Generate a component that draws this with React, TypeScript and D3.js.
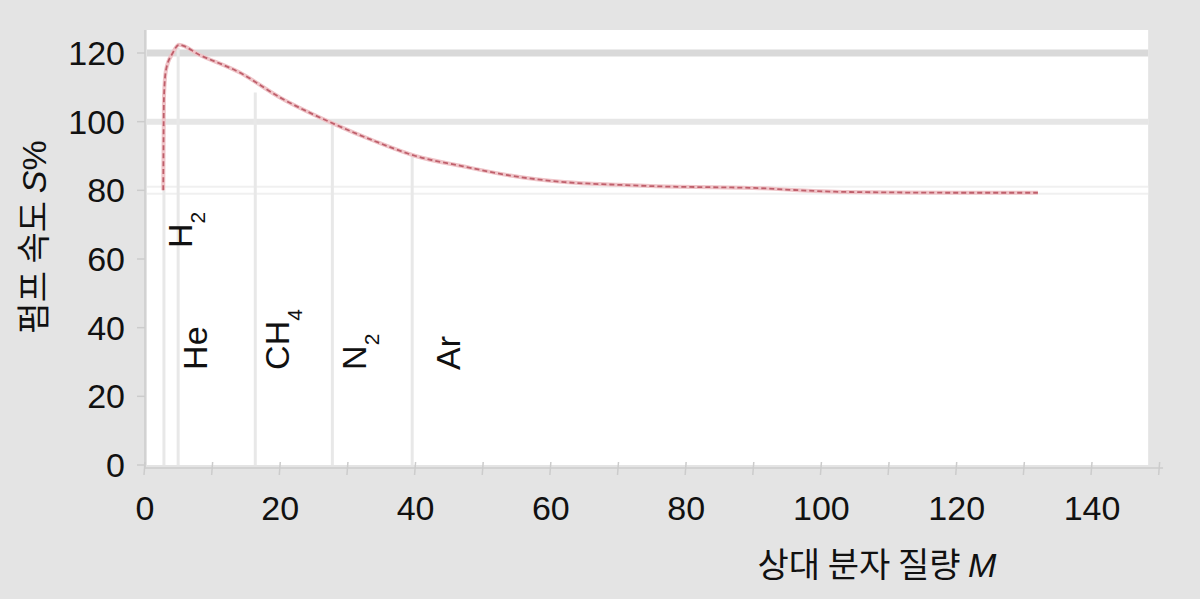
import * as d3 from "d3";
import React from "react";

// pump speed curve
const massM = [2.7, 2.8, 3.1, 4.1, 5.0, 8, 14, 20, 28, 34, 40, 47, 54, 62, 70, 77, 84, 90, 96, 102, 110, 120, 132];
const speedS = [80, 107, 115, 120, 122.4, 119.5, 114.3, 107, 99.3, 94.3, 90, 87, 84.3, 82.4, 81.6, 81.1, 80.9, 80.7, 80.1, 79.6, 79.4, 79.3, 79.3];

// gas markers
const gasBase = ["H", "He", "CH", "N", "Ar"];
const gasSub = ["2", "", "4", "2", ""];
const gasM = [2.8, 4.9, 16.3, 27.7, 39.5];
const gasTopS = [80, 121.5, 108.5, 99, 90];
// where each rotated label starts (baseline point, data units)
const labelM = [6.95, 9.2, 21.3, 32.7, 46.5];
const labelS = [63.2, 27.7, 27.7, 27.7, 27.7];

const xTicks = [0, 20, 40, 60, 80, 100, 120, 140];
const xMinor = [0, 10, 20, 30, 40, 50, 60, 70, 80, 90, 100, 110, 120, 130, 140, 150];
const yTicks = [0, 20, 40, 60, 80, 100, 120];
const gridS = [120, 100, 80];

const W = 1200;
const H = 599;
const FONT = "'Liberation Sans', Arial, 'Noto Sans CJK KR', sans-serif";
const KFONT = "'Noto Sans CJK KR', 'Liberation Sans', sans-serif";

export default function App() {
  const x = d3.scaleLinear().domain([0, 140]).range([145, 1092]);
  const y = d3.scaleLinear().domain([0, 120]).range([465, 53]);

  const pts = massM.map((m, i) => [m, speedS[i]] as [number, number]);
  const line = d3.line<[number, number]>().x(d => x(d[0])).y(d => y(d[1])).curve(d3.curveMonotoneX);
  const path = line(pts) ?? "";

  const plotL = x(0) + 2;
  const plotR = x(148.3);
  const plotT = y(126.7);
  const plotB = y(0);

  // grid styles: 120 strongest, 80 faintest
  const gridStyle = [
    { stroke: "#d9d9d9", w: 7 },
    { stroke: "#e6e6e6", w: 6 },
    { stroke: "#f0f0f0", w: 9 },
  ];

  return (
    <svg width={W} height={H} style={{ position: "absolute", left: 0, top: 0 }} fontFamily={FONT}>
      <rect x={0} y={0} width={W} height={H} fill="#e4e4e4" />
      <rect x={plotL} y={plotT} width={plotR - plotL} height={plotB - plotT} fill="#ffffff" />

      {/* horizontal grid bands */}
      {gridS.map((s, i) => (
        <line key={s} x1={plotL} x2={plotR} y1={y(s)} y2={y(s)} stroke={gridStyle[i].stroke} strokeWidth={gridStyle[i].w} />
      ))}
      <line x1={plotL} x2={plotR} y1={y(80)} y2={y(80)} stroke="#ffffff" strokeWidth={5} />

      {/* gas marker lines */}
      {gasM.map((m, i) => (
        <line key={gasBase[i]} x1={x(m)} x2={x(m)} y1={y(gasTopS[i])} y2={plotB} stroke="#e8e8e8" strokeWidth={3} />
      ))}

      {/* axes */}
      <line x1={x(0)} x2={x(0)} y1={plotT} y2={plotB + 4} stroke="#d2d2d2" strokeWidth={2} />
      <line x1={x(0)} x2={x(150.5)} y1={plotB + 3} y2={plotB + 3} stroke="#d2d2d2" strokeWidth={2} />
      {xMinor.map(t => (
        <line key={t} x1={x(t)} x2={x(t) - 1} y1={plotB - 3} y2={plotB + 10} stroke="#cccccc" strokeWidth={1.5} />
      ))}
      {yTicks.map(t => (
        <line key={t} x1={x(0) - 8} x2={x(0)} y1={y(t)} y2={y(t)} stroke="#cccccc" strokeWidth={1.5} />
      ))}

      {yTicks.map(t => (
        <text key={t} x={125} y={y(t)} dy="0.35em" textAnchor="end" fontSize={34} fill="#111">
          {t}
        </text>
      ))}
      {xTicks.map(t => (
        <text key={t} x={x(t)} y={520} textAnchor="middle" fontSize={34} fill="#111">
          {t}
        </text>
      ))}

      {/* curve: pale band with a darker sawtooth on top */}
      <path d={path} fill="none" stroke="#efc4c8" strokeWidth={4} />
      <path d={path} fill="none" stroke="#bf5f6b" strokeWidth={1.8} strokeDasharray="5 3" />

      {/* gas labels */}
      {gasBase.map((g, i) => {
        const lx = x(labelM[i]);
        const ly = y(labelS[i]);
        return (
          <text key={g} transform={`translate(${lx},${ly}) rotate(-90)`} fontSize={34} fill="#111">
            {g}
            {gasSub[i] && (
              <tspan fontSize={21} dy={13}>
                {gasSub[i]}
              </tspan>
            )}
          </text>
        );
      })}

      {/* axis titles */}
      <text transform={`translate(46,237) rotate(-90)`} textAnchor="middle" fontSize={34} fill="#111" fontFamily={KFONT}>
        펌프 속도 <tspan fontStyle="italic" fontFamily={FONT}>S</tspan>
        <tspan fontFamily={FONT}>%</tspan>
      </text>
      <text x={877} y={577} textAnchor="middle" fontSize={34} fill="#111" fontFamily={KFONT}>
        상대 분자 질량 <tspan fontStyle="italic" fontFamily={FONT}>M</tspan>
      </text>
    </svg>
  );
}
